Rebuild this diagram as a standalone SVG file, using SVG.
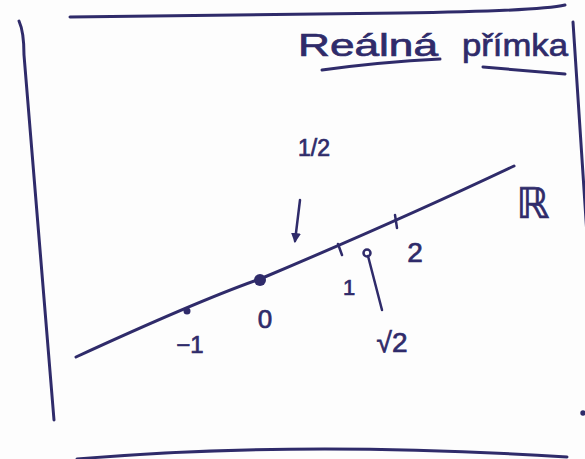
<svg xmlns="http://www.w3.org/2000/svg" width="585" height="459" viewBox="0 0 585 459">
<defs>
<style>
.ink{fill:none;stroke:#2f2b6a;stroke-linecap:round;stroke-linejoin:round}
.t{fill:#2f2b6a;stroke:#2f2b6a;stroke-width:0.7;font-family:"Liberation Sans","DejaVu Sans",sans-serif;text-anchor:middle}
</style>
<marker id="ah" viewBox="0 0 10 10" refX="8" refY="5" markerWidth="4" markerHeight="4" orient="auto">
<path d="M0,0 L10,5 L0,10 z" fill="#2f2b6a"/>
</marker>
</defs>
<rect width="585" height="459" fill="#fdfdfd"/>
<g id="frame" class="ink" stroke-width="3">
<path d="M70,17 L400,13 Q540,11 565,5"/>
<path d="M19,21 Q24,32 24,55 L54,420"/>
<path d="M573,22 L587,235"/>
<path d="M77,459 Q300,440 567,457"/>
<circle cx="583" cy="413" r="1.2" fill="#2f2b6a"/>
</g>
<g id="title">
<text class="t" x="368" y="56" font-size="32" textLength="140" lengthAdjust="spacingAndGlyphs">Reálná</text>
<text class="t" x="515" y="56" font-size="32" textLength="106" lengthAdjust="spacingAndGlyphs">přímka</text>
<g class="ink" stroke-width="3">
<path d="M322,70 Q380,62 440,59"/>
<path d="M483,67 L565,74"/>
</g>
</g>
<g id="connectors" class="ink">
<path id="line" stroke-width="3" d="M76,357 Q200,300 260,279 Q400,220 514,166"/>
<path stroke-width="2.5" d="M338,244 L342,255"/>
<path stroke-width="2.5" d="M395,215 L397,228"/>
<path stroke-width="2.5" d="M300,200 L295,241" marker-end="url(#ah)"/>
<path stroke-width="2.5" d="M382,310 L368,256"/>
<circle cx="367" cy="253" r="3.5" stroke-width="2.5"/>
</g>
<g id="points">
<circle cx="187" cy="311" r="3.5" fill="#2f2b6a"/>
<circle cx="260" cy="280" r="6" fill="#2f2b6a"/>
</g>
<g id="labels">
<text class="t" x="190" y="353" font-size="24">−1</text>
<text class="t" x="265" y="328" font-size="26">0</text>
<text class="t" x="349" y="295" font-size="22">1</text>
<text class="t" x="415" y="262" font-size="28">2</text>
<text class="t" x="314" y="156" font-size="23">1/2</text>
<text class="t" x="392" y="352" font-size="28">√2</text>
<text class="t" x="533" y="218" font-size="42">ℝ</text>
</g>
</svg>
